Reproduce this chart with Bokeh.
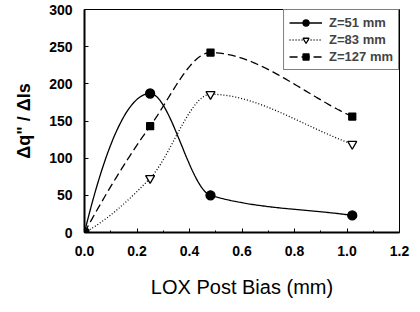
import numpy as np
from bokeh.plotting import figure
from bokeh.models import Range1d, FixedTicker, NumeralTickFormatter, Legend, LegendItem
from bokeh.embed import file_html
from bokeh.resources import INLINE

bias = [0.0, 0.25, 0.48, 1.02]
z51 = [0, 187, 50, 23]
z83 = [0, 73, 186, 119]
z127 = [0, 143, 242, 156]
labels = ["Z=51 mm", "Z=83 mm", "Z=127 mm"]
x_ticks = [0.0, 0.2, 0.4, 0.6, 0.8, 1.0, 1.2]
y_ticks = [0, 50, 100, 150, 200, 250, 300]


def _end_slope(h0, h1, d0, d1):
    m = ((2 * h0 + h1) * d0 - h0 * d1) / (h0 + h1)
    if np.sign(m) != np.sign(d0):
        return 0.0
    if np.sign(d0) != np.sign(d1) and abs(m) > abs(3 * d0):
        return 3 * d0
    return m


def smooth_curve(xs, ys, n=200):
    # monotone piecewise cubic used only to draw the connecting line
    xs = np.asarray(xs, float); ys = np.asarray(ys, float)
    h = np.diff(xs); dlt = np.diff(ys) / h
    k = len(xs); m = np.zeros(k)
    for i in range(1, k - 1):
        if dlt[i - 1] * dlt[i] > 0:
            w1 = 2 * h[i] + h[i - 1]; w2 = h[i] + 2 * h[i - 1]
            m[i] = (w1 + w2) / (w1 / dlt[i - 1] + w2 / dlt[i])
    m[0] = _end_slope(h[0], h[1], dlt[0], dlt[1])
    m[-1] = dlt[-1]
    xx = np.linspace(xs[0], xs[-1], n); yy = np.empty_like(xx)
    for j, x in enumerate(xx):
        i = min(np.searchsorted(xs, x, side="right") - 1, k - 2)
        t = (x - xs[i]) / h[i]
        h00 = 2 * t ** 3 - 3 * t ** 2 + 1; h10 = t ** 3 - 2 * t ** 2 + t
        h01 = -2 * t ** 3 + 3 * t ** 2; h11 = t ** 3 - t ** 2
        yy[j] = h00 * ys[i] + h10 * h[i] * m[i] + h01 * ys[i + 1] + h11 * h[i] * m[i + 1]
    return xx, yy


p = figure(width=410, height=300, output_backend="svg", toolbar_location=None,
           x_range=Range1d(0, 1.2), y_range=Range1d(0, 300),
           min_border_left=84, min_border_right=11, min_border_top=9, min_border_bottom=68)
p.xgrid.visible = False
p.ygrid.visible = False
p.outline_line_color = "black"
p.outline_line_width = 1

FONT = "Liberation Sans"
for ax in (p.xaxis[0], p.yaxis[0]):
    ax.axis_line_width = 2
    ax.major_tick_in = 4
    ax.major_tick_out = 0
    ax.minor_tick_in = 2
    ax.minor_tick_out = 0
    ax.major_label_text_font = FONT
    ax.major_label_text_font_style = "bold"
    ax.major_label_text_font_size = "14px"
    ax.major_label_text_color = "black"
    ax.axis_label_text_font = FONT
    ax.axis_label_text_color = "black"

p.xaxis.ticker = FixedTicker(ticks=x_ticks, minor_ticks=[0.1, 0.3, 0.5, 0.7, 0.9, 1.1])
p.yaxis.ticker = FixedTicker(ticks=y_ticks)
p.xaxis.formatter = NumeralTickFormatter(format="0.0")
p.xaxis.major_label_standoff = 13
p.yaxis.major_label_standoff = 12
p.xaxis.axis_label = "LOX Post Bias (mm)"
p.xaxis.axis_label_text_font_size = "20px"
p.xaxis.axis_label_text_font_style = "normal"
p.xaxis.axis_label_standoff = 17
p.yaxis.axis_label = "\u0394q\" / \u0394Is"
p.yaxis.axis_label_text_font_size = "18px"
p.yaxis.axis_label_text_font_style = "bold"
p.yaxis.axis_label_standoff = 12

items = []
specs = [(z51, "solid", "circle", 9, "black"), (z83, "1 2", "inverted_triangle", 9, "white"),
         (z127, "8 4", "square", 7, "black")]
for (ys, dash, marker, size, fill), lab in zip(specs, labels):
    sx, sy = smooth_curve(bias, ys)
    ln = p.line(sx, sy, line_color="black", line_width=1.3, line_dash=dash)
    sc = p.scatter(bias, ys, marker=marker, size=size, line_color="black", line_width=1.3, fill_color=fill)
    items.append(LegendItem(label=lab, renderers=[ln, sc]))

legend = Legend(items=items, location="top_right", border_line_color="black", border_line_width=1,
                background_fill_color="white", background_fill_alpha=1,
                label_text_font=FONT, label_text_font_style="bold", label_text_font_size="13px",
                glyph_width=33, glyph_height=15, spacing=2, padding=5, margin=0,
                label_standoff=7, label_height=15)
p.add_layout(legend)

open("out.html", "w").write(file_html(p, INLINE))
